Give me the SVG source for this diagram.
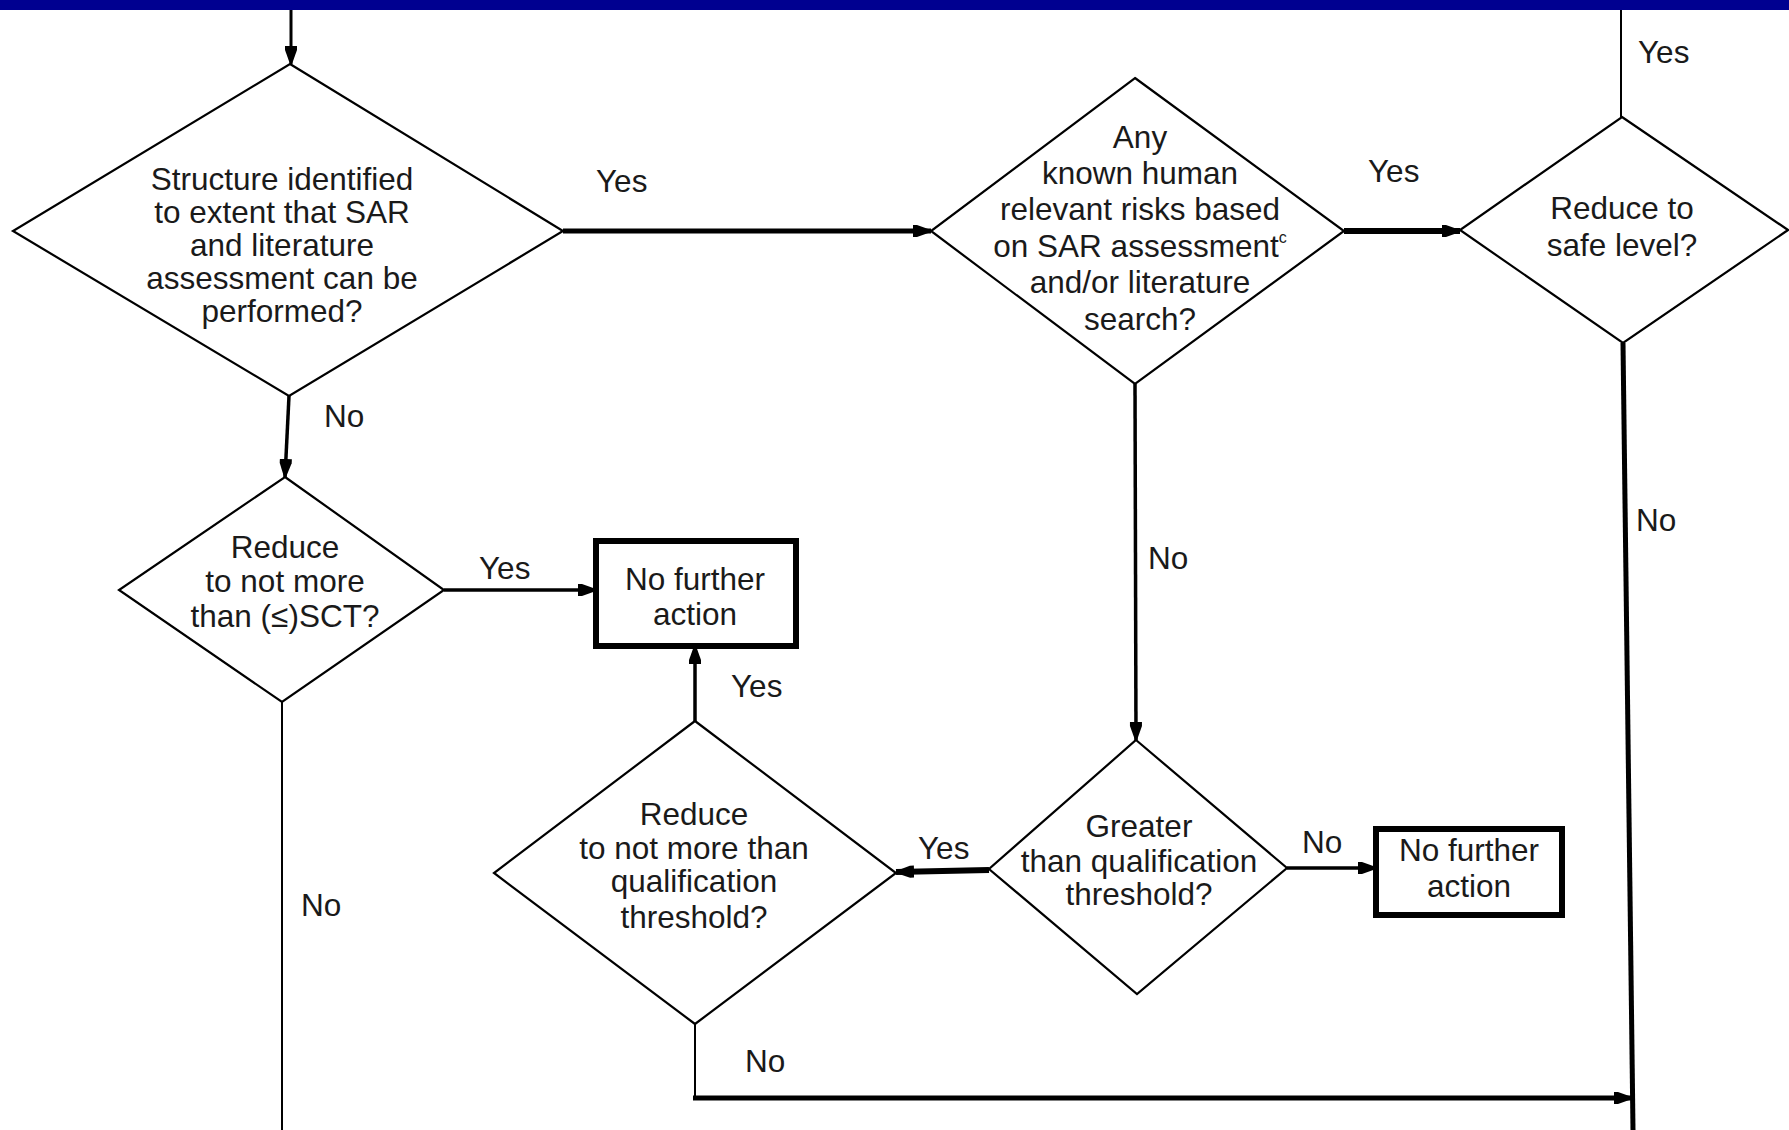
<svg xmlns="http://www.w3.org/2000/svg" width="1789" height="1130" viewBox="0 0 1789 1130">
<style>
.d{fill:#fff;stroke:#000;stroke-width:2.2}
.b{fill:#fff;stroke:#000;stroke-width:6}
.t{font-family:"Liberation Sans",Arial,sans-serif;font-size:31.5px;fill:#1a1a1a;text-anchor:middle}
.l{font-family:"Liberation Sans",Arial,sans-serif;font-size:31.5px;fill:#1a1a1a}
.c{fill:none;stroke:#000}
</style>
<defs>
<marker id="ah" markerUnits="userSpaceOnUse" markerWidth="18" markerHeight="14" refX="18" refY="7" orient="auto">
<path d="M0,1 L4,1 L18,6 L18,8 L4,13 L0,13 z" fill="#000"/>
</marker>
</defs>
<rect x="0" y="0" width="1789" height="10" fill="#000090"/>

<g id="connectors">
<line class="c" x1="291" y1="10" x2="291" y2="64" stroke-width="3" marker-end="url(#ah)"/>
<line class="c" x1="563" y1="231" x2="931" y2="231" stroke-width="5" marker-end="url(#ah)"/>
<line class="c" x1="1344" y1="231" x2="1460" y2="231" stroke-width="6" marker-end="url(#ah)"/>
<line class="c" x1="1621" y1="10" x2="1621" y2="117" stroke-width="2"/>
<line class="c" x1="1623" y1="343" x2="1633" y2="1130" stroke-width="5"/>
<line class="c" x1="289" y1="396" x2="285" y2="477" stroke-width="3.5" marker-end="url(#ah)"/>
<line class="c" x1="444" y1="590" x2="596" y2="590" stroke-width="3.5" marker-end="url(#ah)"/>
<line class="c" x1="695" y1="721" x2="695" y2="646" stroke-width="3.5" marker-end="url(#ah)"/>
<line class="c" x1="282" y1="702" x2="282" y2="1130" stroke-width="2"/>
<line class="c" x1="1135" y1="384" x2="1136" y2="740" stroke-width="3.5" marker-end="url(#ah)"/>
<line class="c" x1="989" y1="870" x2="896" y2="872" stroke-width="6" marker-end="url(#ah)"/>
<line class="c" x1="1287" y1="868" x2="1376" y2="868" stroke-width="3.5" marker-end="url(#ah)"/>
<polyline class="c" points="695,1024 695,1098" stroke-width="2"/>
<line class="c" x1="693" y1="1098" x2="1632" y2="1098" stroke-width="5" marker-end="url(#ah)"/>
</g>

<g id="labels">
<text class="l" x="596" y="192">Yes</text>
<text class="l" x="1368" y="182">Yes</text>
<text class="l" x="1638" y="63">Yes</text>
<text class="l" x="324" y="427">No</text>
<text class="l" x="479" y="579">Yes</text>
<text class="l" x="731" y="697">Yes</text>
<text class="l" x="301" y="916">No</text>
<text class="l" x="1148" y="569">No</text>
<text class="l" x="1636" y="531">No</text>
<text class="l" x="918" y="859">Yes</text>
<text class="l" x="1302" y="853">No</text>
<text class="l" x="745" y="1072">No</text>
</g>

<g id="d1">
<polygon class="d" points="290,64 563,231 289,396 13,231"/>
<text class="t" x="282" y="190">Structure identified</text>
<text class="t" x="282" y="223">to extent that SAR</text>
<text class="t" x="282" y="256">and literature</text>
<text class="t" x="282" y="289">assessment can be</text>
<text class="t" x="282" y="322">performed?</text>
</g>

<g id="d2">
<polygon class="d" points="1135,78 1344,231 1135,384 931,231"/>
<text class="t" x="1140" y="148">Any</text>
<text class="t" x="1140" y="184">known human</text>
<text class="t" x="1140" y="220">relevant risks based</text>
<text class="t" x="1140" y="257">on SAR assessment<tspan font-size="16" dy="-14">c</tspan></text>
<text class="t" x="1140" y="293">and/or literature</text>
<text class="t" x="1140" y="330">search?</text>
</g>

<g id="d3">
<polygon class="d" points="1622,117 1788,230 1623,343 1460,230"/>
<text class="t" x="1622" y="219">Reduce to</text>
<text class="t" x="1622" y="256">safe level?</text>
</g>

<g id="d4">
<polygon class="d" points="285,477 444,590 282,702 119,590"/>
<text class="t" x="285" y="558">Reduce</text>
<text class="t" x="285" y="592">to not more</text>
<text class="t" x="285" y="627">than (≤)SCT?</text>
</g>

<g id="box1">
<rect class="b" x="596" y="541" width="200" height="105"/>
<text class="t" x="695" y="590">No further</text>
<text class="t" x="695" y="625">action</text>
</g>

<g id="d5">
<polygon class="d" points="695,721 896,873 695,1024 494,873"/>
<text class="t" x="694" y="825">Reduce</text>
<text class="t" x="694" y="859">to not more than</text>
<text class="t" x="694" y="892">qualification</text>
<text class="t" x="694" y="928">threshold?</text>
</g>

<g id="d6">
<polygon class="d" points="1136,740 1287,868 1137,994 989,869"/>
<text class="t" x="1139" y="837">Greater</text>
<text class="t" x="1139" y="872">than qualification</text>
<text class="t" x="1139" y="905">threshold?</text>
</g>

<g id="box2">
<rect class="b" x="1376" y="829" width="186" height="86"/>
<text class="t" x="1469" y="861">No further</text>
<text class="t" x="1469" y="897">action</text>
</g>
</svg>
